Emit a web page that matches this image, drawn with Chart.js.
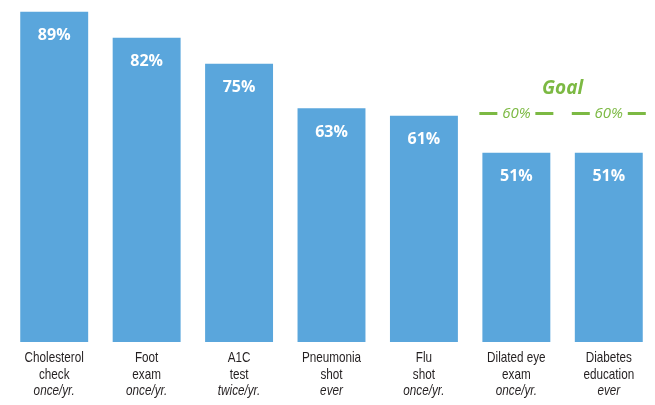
<!DOCTYPE html>
<html>
<head>
<meta charset="utf-8">
<script src="https://cdn.jsdelivr.net/npm/chart.js@4/dist/chart.umd.min.js"></script>
<style>
  html, body { margin: 0; padding: 0; background: #fff; }
  #wrap { width: 655px; height: 405px; }
</style>
</head>
<body>
<div id="wrap"><canvas id="careChart"></canvas></div>
<script>
const names = ["Cholesterol|check", "Foot|exam", "A1C|test", "Pneumonia|shot", "Flu|shot", "Dilated eye|exam", "Diabetes|education"];
const frequency = ["once/yr.", "once/yr.", "twice/yr.", "ever", "once/yr.", "once/yr.", "ever"];
const percentDone = [89, 82, 75, 63, 61, 51, 51];
const goalValues = [null, null, null, null, null, 60, 60];

const blue = "#5aa6dc";
const green = "#7cb943";

// condensed look: draw regular sans squeezed horizontally
function narrowText(ctx, text, cx, cy, font) {
    ctx.save();
    ctx.translate(cx, cy);
    ctx.scale(0.78, 1);
    ctx.font = font;
    ctx.fillText(text, 0, 0);
    ctx.restore();
}

// value inside each bar, category names under the axis, goal markers above the last two
const annotate = {
    id: "annotate",
    afterDatasetsDraw(chart) {
        const ctx = chart.ctx;
        const x = chart.scales.x;
        const y = chart.scales.y;
        const bars = chart.getDatasetMeta(0).data;
        ctx.save();
        ctx.textAlign = "center";
        ctx.textBaseline = "middle";

        ctx.fillStyle = "#fff";
        ctx.font = "bold 16px 'Open Sans', sans-serif";
        bars.forEach((bar, i) => {
            ctx.fillText(percentDone[i] + "%", bar.x, bar.y + 24);
        });

        ctx.fillStyle = "#231f20";
        names.forEach((name, i) => {
            const cx = x.getPixelForValue(i);
            const lines = name.split("|");
            narrowText(ctx, lines[0], cx, y.bottom + 16, "15px 'Liberation Sans', sans-serif");
            narrowText(ctx, lines[1], cx, y.bottom + 33, "15px 'Liberation Sans', sans-serif");
            narrowText(ctx, frequency[i], cx, y.bottom + 49, "italic 15px 'Liberation Sans', sans-serif");
        });

        const goalIdx = [];
        goalValues.forEach((g, i) => {
            if (g === null) return;
            goalIdx.push(i);
            const cx = x.getPixelForValue(i);
            const gy = y.getPixelForValue(g) - 6;
            ctx.fillStyle = green;
            ctx.font = "italic 15px 'Open Sans', sans-serif";
            ctx.fillText(g + "%", cx, gy);
            ctx.strokeStyle = green;
            ctx.lineWidth = 3;
            ctx.beginPath();
            ctx.moveTo(cx - 37, gy);
            ctx.lineTo(cx - 19, gy);
            ctx.moveTo(cx + 19, gy);
            ctx.lineTo(cx + 37, gy);
            ctx.stroke();
        });

        if (goalIdx.length) {
            const gx = (x.getPixelForValue(goalIdx[0]) + x.getPixelForValue(goalIdx[goalIdx.length - 1])) / 2;
            ctx.fillStyle = green;
            ctx.font = "italic bold 19px 'Open Sans', sans-serif";
            ctx.fillText("Goal", gx, y.getPixelForValue(60) - 31);
        }
        ctx.restore();
    }
};

new Chart(document.getElementById("careChart"), {
    type: "bar",
    data: {
        labels: names,
        datasets: [{
            data: percentDone,
            backgroundColor: blue,
            borderWidth: 0,
            barPercentage: 0.735,
            categoryPercentage: 1
        }]
    },
    options: {
        responsive: true,
        maintainAspectRatio: false,
        animation: false,
        layout: { padding: { left: 8, right: 0, top: 0, bottom: 63 } },
        plugins: { legend: { display: false }, tooltip: { enabled: false } },
        scales: {
            x: { display: false },
            y: {
                display: false,
                min: 0,
                max: 92.2
            }
        }
    },
    plugins: [annotate]
});
</script>
</body>
</html>
